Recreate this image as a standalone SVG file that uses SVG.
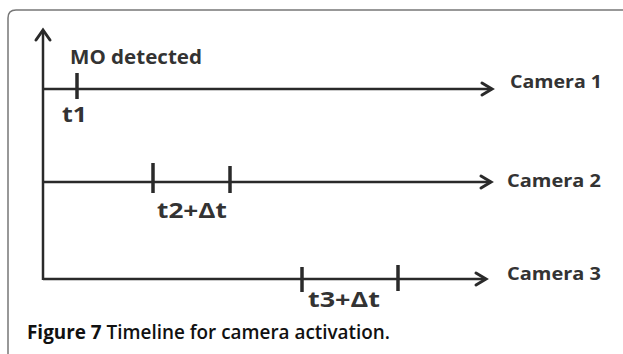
<svg xmlns="http://www.w3.org/2000/svg" width="623" height="354" viewBox="0 0 623 354">
<style>
.ln{stroke:#2a2a2a;stroke-width:2.5;fill:none}
.tk{stroke:#2a2a2a;stroke-width:3.5;fill:none}
.ah{stroke:#2a2a2a;stroke-width:3;fill:none;stroke-linecap:round;stroke-linejoin:miter}
.lbl{font-family:"Open Sans","Liberation Sans",sans-serif;font-weight:700;fill:#333}
.cap{font-family:"Open Sans","Liberation Sans",sans-serif;font-size:19px;fill:#111;font-weight:600}
</style>
<rect width="623" height="354" fill="#fff"/>
<path d="M8,360 V18 Q8,10 16,10 H630" fill="none" stroke="#777" stroke-width="1.5"/>
<g id="axis">
<line class="ln" x1="43" y1="30" x2="43" y2="280"/>
<polyline class="ah" points="36,40 43,30 50,40"/>
</g>
<g id="connectors">
<line class="ln" x1="43" y1="89" x2="492" y2="89"/>
<polyline class="ah" points="482,83 492,89 482,95"/>
<line class="ln" x1="43" y1="182" x2="491" y2="182"/>
<polyline class="ah" points="481,176 491,182 481,188"/>
<line class="ln" x1="43" y1="279" x2="486" y2="279"/>
<polyline class="ah" points="476,273 486,279 476,285"/>
</g>
<g id="camera1">
<line class="tk" x1="77" y1="73" x2="77" y2="99"/>
<text class="lbl" x="70" y="64" font-size="20" textLength="132" lengthAdjust="spacingAndGlyphs">MO detected</text>
<text class="lbl" x="62" y="122" font-size="22" textLength="25" lengthAdjust="spacingAndGlyphs">t1</text>
<text class="lbl" x="510" y="88" font-size="18" textLength="92" lengthAdjust="spacingAndGlyphs">Camera 1</text>
</g>
<g id="camera2">
<line class="tk" x1="153" y1="163" x2="153" y2="193"/>
<line class="tk" x1="230" y1="166" x2="230" y2="193"/>
<text class="lbl" x="157" y="218" font-size="22" textLength="70" lengthAdjust="spacingAndGlyphs">t2+Δt</text>
<text class="lbl" x="507" y="187" font-size="18" textLength="94" lengthAdjust="spacingAndGlyphs">Camera 2</text>
</g>
<g id="camera3">
<line class="tk" x1="302" y1="267" x2="302" y2="292"/>
<line class="tk" x1="398" y1="265" x2="398" y2="291"/>
<text class="lbl" x="308" y="307" font-size="22" textLength="72" lengthAdjust="spacingAndGlyphs">t3+Δt</text>
<text class="lbl" x="507" y="280" font-size="18" textLength="94" lengthAdjust="spacingAndGlyphs">Camera 3</text>
</g>
<text class="cap" x="27" y="339" textLength="363" lengthAdjust="spacingAndGlyphs"><tspan font-weight="700">Figure 7</tspan> Timeline for camera activation.</text>
</svg>
